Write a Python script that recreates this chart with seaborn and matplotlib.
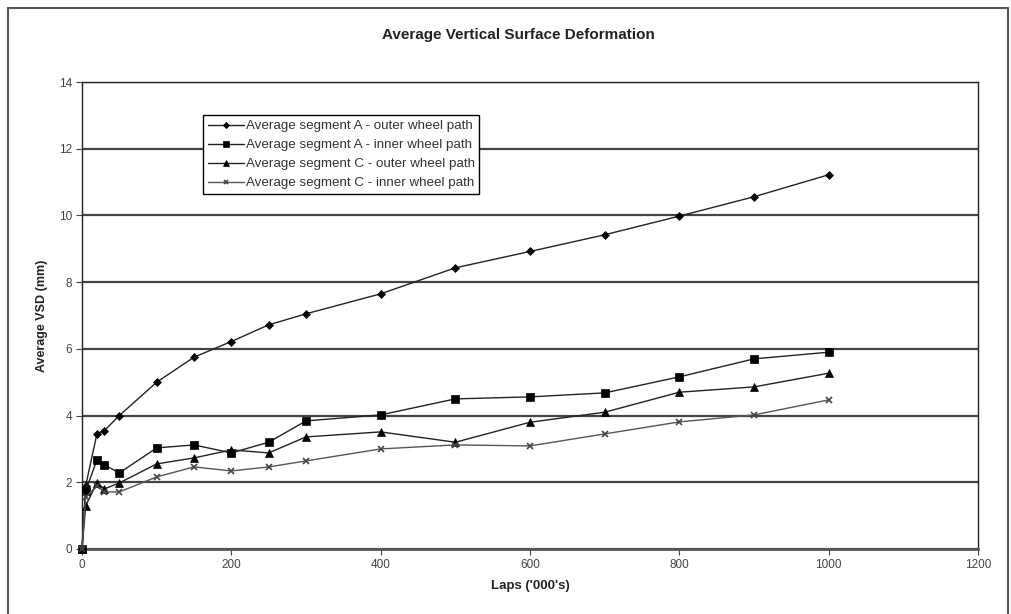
import matplotlib
matplotlib.use("Agg")
import matplotlib.pyplot as plt
import seaborn as sns
import pandas as pd
from matplotlib.lines import Line2D

laps = [0, 5, 20, 30, 50, 100, 150, 200, 250, 300, 400, 500, 600, 700, 800, 900, 1000]
a_outer = [0, 1.9, 3.45, 3.55, 4.0, 5.0, 5.75, 6.22, 6.72, 7.05, 7.65, 8.43, 8.92, 9.42, 9.98, 10.56, 11.22]
a_inner = [0, 1.75, 2.67, 2.52, 2.28, 3.03, 3.12, 2.88, 3.2, 3.84, 4.02, 4.5, 4.56, 4.68, 5.16, 5.7, 5.9]
c_outer = [0, 1.3, 1.98, 1.8, 1.98, 2.55, 2.73, 2.97, 2.88, 3.36, 3.51, 3.2, 3.8, 4.1, 4.7, 4.86, 5.27]
c_inner = [0, 1.55, 1.9, 1.71, 1.71, 2.16, 2.46, 2.34, 2.46, 2.64, 3.0, 3.12, 3.09, 3.45, 3.81, 4.02, 4.47]

labels = ["Average segment A - outer wheel path",
          "Average segment A - inner wheel path",
          "Average segment C - outer wheel path",
          "Average segment C - inner wheel path"]
series = [a_outer, a_inner, c_outer, c_inner]
x_ticks = [0, 200, 400, 600, 800, 1000, 1200]
y_ticks = [0, 2, 4, 6, 8, 10, 12, 14]

sns.set_theme(style="white")
plt.rcParams['font.family'] = ['Liberation Sans', 'DejaVu Sans']

fig = plt.figure(figsize=(10.11, 6.14), dpi=100)
ax = fig.add_axes([0.0811, 0.1059, 0.8863, 0.7605])

styles = [
    dict(marker="D", markersize=4.5, color="#222222", mfc="black", mec="black", mew=0.5),
    dict(marker="s", markersize=6.3, color="#222222", mfc="black", mec="black", mew=0.5),
    dict(marker="^", markersize=5.5, color="#222222", mfc="black", mec="black", mew=0.5),
    dict(marker="x", markersize=5, color="#555555", mfc="#555555", mec="#444444", mew=1.2),
]

for vals, lab, st in zip(series, labels, styles):
    df = pd.DataFrame({"laps": laps, "vsd": vals})
    sns.lineplot(data=df, x="laps", y="vsd", ax=ax, color=st["color"], linewidth=1.0,
                 marker=st["marker"], markersize=st["markersize"],
                 markerfacecolor=st["mfc"], markeredgecolor=st["mec"],
                 markeredgewidth=st["mew"], label=lab, zorder=3, clip_on=False)

ax.set_xlim(0, 1200)
ax.set_ylim(0, 14)
ax.set_xticks(x_ticks)
ax.set_yticks(y_ticks)
ax.yaxis.grid(True, color="#444444", linewidth=1.6)
ax.xaxis.grid(False)
ax.set_axisbelow(True)
for s in ax.spines.values():
    s.set_color("#222222")
    s.set_linewidth(1.0)
ax.spines["bottom"].set_color("#555555")
ax.spines["bottom"].set_linewidth(2.0)
ax.tick_params(axis="both", labelsize=8.5, colors="#444444", length=4, width=0.8,
               direction="out", pad=3)
ax.tick_params(axis="x", bottom=True)
ax.tick_params(axis="y", left=True)
ax.set_xlabel("Laps ('000's)", fontsize=9.5, fontweight="bold", labelpad=7, color="#222222")
ax.set_ylabel("Average VSD (mm)", fontsize=9, fontweight="bold", labelpad=8, color="#222222")

leg = ax.legend(loc="upper left", bbox_to_anchor=(0.135, 0.929), fontsize=9.6,
                frameon=True, fancybox=False, edgecolor="black", framealpha=1,
                handlelength=2.7, handletextpad=0.15, borderpad=0.35, labelspacing=0.5,
                borderaxespad=0, markerscale=0.7)
leg.get_frame().set_linewidth(1.0)
for t in leg.get_texts():
    t.set_color("#333333")

fig.text(0.513, 0.943, "Average Vertical Surface Deformation", ha="center", va="center",
         fontsize=11, fontweight="bold", color="#222222")

# figure frame
for xs, ys in [([0.008, 0.008], [0.0, 0.987]), ([0.008, 0.997], [0.987, 0.987]),
               ([0.997, 0.997], [0.0, 0.987])]:
    fig.add_artist(Line2D(xs, ys, transform=fig.transFigure, color="#555555", linewidth=1.5))

fig.savefig("out.png", dpi=100)
